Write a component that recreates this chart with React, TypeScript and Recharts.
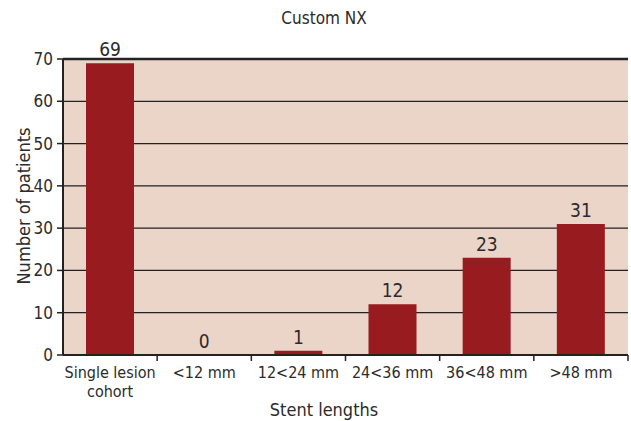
import { ComposedChart, Bar, Line, XAxis, YAxis, CartesianGrid, LabelList, ReferenceLine } from "recharts";

const categories = ["Single lesion\ncohort", "<12 mm", "12<24 mm", "24<36 mm", "36<48 mm", ">48 mm"];
const patients = [69, 0, 1, 12, 23, 31];
const yTicks = [0, 10, 20, 30, 40, 50, 60, 70];

const chartData = categories.map((name, i) => ({ name, patients: patients[i] }));

const FONT = '"DejaVu Sans Condensed", "Liberation Sans Narrow", sans-serif';
const TEXT = "#2b2b2b";
const W = 631;
const H = 421;
const M = { top: 59, right: 3, left: 0, bottom: 0 };
const Y_W = 63;
const X_H = 66;
const band = (W - M.left - M.right - Y_W) / categories.length;

function XTick(props: any) {
    const { x, y, payload } = props;
    const lines = String(payload.value).split("\n");
    return (
        <g>
            <line x1={x + band / 2} x2={x + band / 2} y1={y - 8} y2={y - 2} stroke="#222" strokeWidth={1.5} />
            <text x={x} y={y + 15} textAnchor="middle" fill={TEXT} fontSize={16} fontFamily={FONT}>
                {lines.map((l, i) => (
                    <tspan key={i} x={x} dy={i === 0 ? 0 : 19}>
                        {l}
                    </tspan>
                ))}
            </text>
        </g>
    );
}

export default function App() {
    return (
        <div style={{ position: "absolute", left: 0, top: 0, width: W, height: H, background: "#fff" }}>
            <ComposedChart width={W} height={H} data={chartData} margin={M} barSize={48}>
                <CartesianGrid
                    vertical={false}
                    stroke="#222"
                    strokeWidth={1.2}
                    fill="#ebd4c8"
                    fillOpacity={1}
                />
                <ReferenceLine y={70} stroke="#222" strokeWidth={2.5} />
                <XAxis
                    dataKey="name"
                    height={X_H}
                    tickLine={false}
                    axisLine={{ stroke: "#222", strokeWidth: 2 }}
                    interval={0}
                    tick={<XTick />}
                />
                <YAxis
                    width={Y_W}
                    domain={[0, 70]}
                    ticks={yTicks}
                    interval={0}
                    tickSize={6}
                    tickMargin={4}
                    tickLine={{ stroke: "#222", strokeWidth: 1.5 }}
                    axisLine={{ stroke: "#222", strokeWidth: 2 }}
                    tick={{ fill: TEXT, fontSize: 17, fontFamily: FONT }}
                />
                <Bar dataKey="patients" fill="#981b20" isAnimationActive={false} />
                <Line
                    dataKey="patients"
                    stroke="none"
                    dot={false}
                    activeDot={false}
                    isAnimationActive={false}
                >
                    <LabelList
                        dataKey="patients"
                        position="top"
                        offset={7}
                        fill={TEXT}
                        fontSize={19}
                        fontFamily={FONT}
                    />
                </Line>
                <text x={324} y={24} textAnchor="middle" fill={TEXT} fontSize={17} fontFamily={FONT}>
                    Custom NX
                </text>
                <text x={324} y={416} textAnchor="middle" fill={TEXT} fontSize={18} fontFamily={FONT}>
                    Stent lengths
                </text>
                <text
                    x={0}
                    y={0}
                    transform="translate(30 206) rotate(-90)"
                    textAnchor="middle"
                    fill={TEXT}
                    fontSize={18}
                    fontFamily={FONT}
                >
                    Number of patients
                </text>
            </ComposedChart>
        </div>
    );
}
